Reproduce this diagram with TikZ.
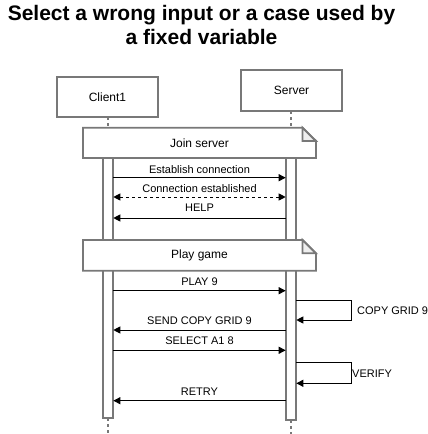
\documentclass[tikz,border=0pt]{standalone}
\usepackage{fontspec}
\setmainfont{Liberation Sans}
\usetikzlibrary{arrows.meta}
\definecolor{edgegray}{RGB}{120,120,120}
\definecolor{foldgray}{RGB}{238,238,238}
\tikzset{
  boxline/.style={draw=edgegray, line width=1.8pt},
  life/.style={draw=edgegray, line width=1.4pt, dash pattern=on 3pt off 3pt},
  msg/.style={draw=black, line width=1pt, -{Triangle[length=7pt,width=7pt]}},
  ret/.style={draw=black, line width=1pt, dash pattern=on 3pt off 3pt, {Triangle[length=7pt,width=7pt]}-{Triangle[length=7pt,width=7pt]}},
  lbl/.style={font=\fontsize{11}{13}\selectfont, inner sep=0pt, anchor=base},
  big/.style={font=\fontsize{12}{14}\selectfont, inner sep=0pt},
}
\begin{document}
\begin{tikzpicture}
\useasboundingbox (0pt,0pt) rectangle (428pt,-434pt);
% title
\node[font=\fontsize{21}{23.3}\selectfont\bfseries, align=center, inner sep=0pt, anchor=north] (title) at (201.5pt,-5.5pt) {Select a wrong input or a case used by\\a fixed variable};
% lifelines
\draw[life] (108pt,-117pt) -- (108pt,-140pt);
\draw[life] (108pt,-418pt) -- (108pt,-434pt);
\draw[life] (291pt,-111pt) -- (291pt,-140pt);
\draw[life] (291pt,-420pt) -- (291pt,-434pt);
% participant boxes
\draw[boxline] (57pt,-77pt) rectangle (158pt,-117pt);
\node[big] (client) at (107.5pt,-97pt) {Client1};
\draw[boxline] (241pt,-70pt) rectangle (342pt,-111pt);
\node[big] (server) at (291.5pt,-90pt) {Server};
% activation bars
\draw[boxline] (102.7pt,-140pt) rectangle (113.3pt,-418pt);
\draw[boxline] (285.7pt,-140pt) rectangle (296.3pt,-420pt);
% notes
\fill[white] (83pt,-127.7pt) rectangle (316pt,-158pt);
\draw[boxline, fill=foldgray] (302.5pt,-127.7pt) -- (302.5pt,-141pt) -- (316pt,-141pt) -- cycle;
\draw[boxline, line join=miter] (83pt,-127.7pt) -- (302.5pt,-127.7pt) -- (316pt,-141pt) -- (316pt,-158pt) -- (83pt,-158pt) -- cycle;
\node[big] (join) at (199.5pt,-143pt) {Join server};
\fill[white] (83pt,-240pt) rectangle (316pt,-270.7pt);
\draw[boxline, fill=foldgray] (302.5pt,-240pt) -- (302.5pt,-253.3pt) -- (316pt,-253.3pt) -- cycle;
\draw[boxline, line join=miter] (83pt,-240pt) -- (302.5pt,-240pt) -- (316pt,-253.3pt) -- (316pt,-270.7pt) -- (83pt,-270.7pt) -- cycle;
\node[big] (play) at (199.5pt,-255.3pt) {Play game};
% message endpoints
\coordinate (ca) at (113.3pt,-177.7pt); \coordinate (sa) at (285.7pt,-177.7pt);
\coordinate (cb) at (113.3pt,-197pt);   \coordinate (sb) at (285.7pt,-197pt);
\coordinate (cc) at (113.3pt,-218pt);   \coordinate (sc) at (285.7pt,-218pt);
\coordinate (cd) at (113.3pt,-290.7pt); \coordinate (sd) at (285.7pt,-290.7pt);
\coordinate (ce) at (113.3pt,-330pt);   \coordinate (se) at (285.7pt,-330pt);
\coordinate (cf) at (113.3pt,-350.3pt); \coordinate (sf) at (285.7pt,-350.3pt);
\coordinate (cg) at (113.3pt,-400.7pt); \coordinate (sg) at (285.7pt,-400.7pt);
\coordinate (l1a) at (296.3pt,-300.3pt); \coordinate (l1b) at (351pt,-300.3pt);
\coordinate (l1c) at (351pt,-320pt);     \coordinate (l1d) at (296.3pt,-320pt);
\coordinate (l2a) at (296.3pt,-362.7pt); \coordinate (l2b) at (351pt,-362.7pt);
\coordinate (l2c) at (351pt,-383.3pt);   \coordinate (l2d) at (296.3pt,-383.3pt);
% messages
\draw[msg] (ca) -- (sa) node[lbl, midway, yshift=4.7pt] {Establish connection};
\draw[ret] (cb) -- (sb) node[lbl, midway, yshift=5pt] {Connection established};
\draw[msg] (sc) -- (cc) node[lbl, midway, yshift=7pt] {HELP};
\draw[msg] (cd) -- (sd) node[lbl, midway, yshift=5.7pt] {PLAY 9};
\draw[msg] (l1a) -- (l1b) -- (l1c) -- (l1d);
\node[lbl, anchor=west] (copy) at (357pt,-310.7pt) {COPY GRID 9};
\draw[msg] (se) -- (ce) node[lbl, midway, yshift=5.3pt] {SEND COPY GRID 9};
\draw[msg] (cf) -- (sf) node[lbl, midway, yshift=5.6pt] {SELECT A1 8};
\draw[msg] (l2a) -- (l2b) -- (l2c) -- (l2d);
\node[lbl, anchor=west] (verify) at (352pt,-374pt) {VERIFY};
\draw[msg] (sg) -- (cg) node[lbl, midway, yshift=5.7pt] {RETRY};
\end{tikzpicture}
\end{document}
